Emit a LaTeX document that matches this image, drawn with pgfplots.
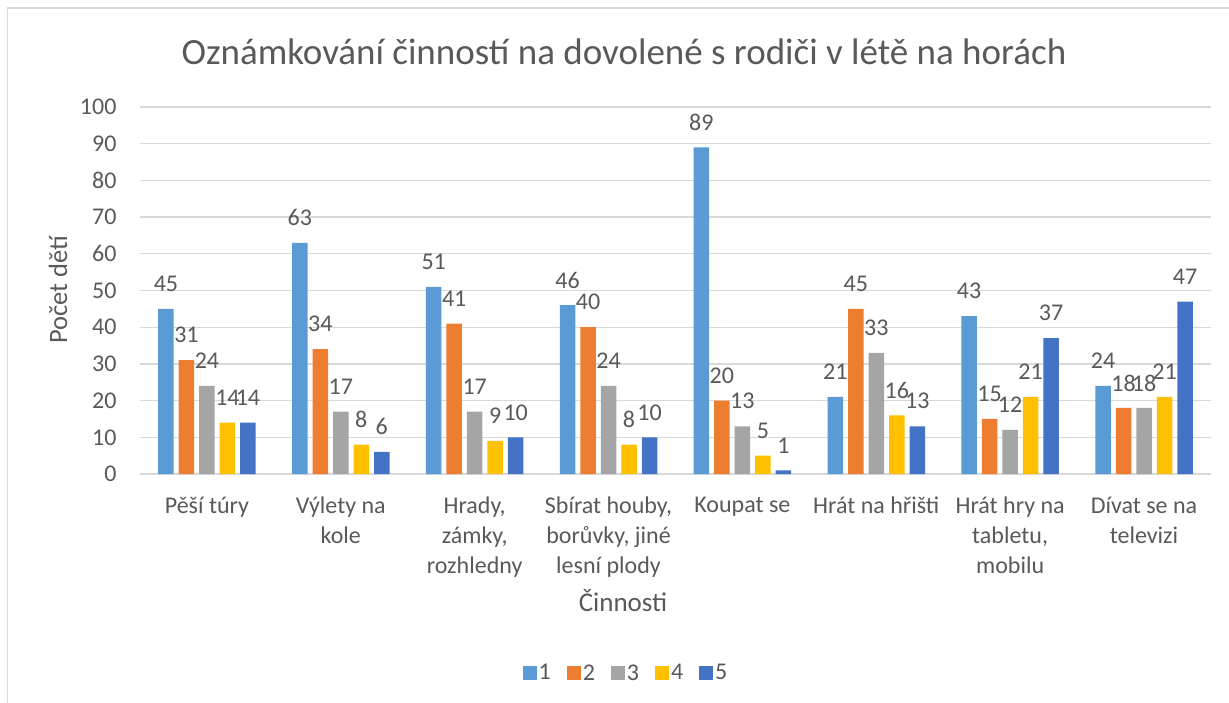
\documentclass[border=0pt]{standalone}
\usepackage{pgfplots}
\pgfplotsset{compat=1.18}
\usepackage{fontspec}
\setmainfont{Carlito}

\definecolor{c1}{HTML}{5B9BD5}
\definecolor{c2}{HTML}{ED7D31}
\definecolor{c3}{HTML}{A5A5A5}
\definecolor{c4}{HTML}{FFC000}
\definecolor{c5}{HTML}{4472C4}
\definecolor{txt}{HTML}{595959}
\definecolor{gridc}{HTML}{D9D9D9}

\begin{document}
\begin{tikzpicture}
\begin{axis}[
    at={(0,0)}, anchor=south west,
    scale only axis,
    width=1071bp, height=367bp,
    ybar=5bp, bar width=15.5bp,
    xmin=-0.5, xmax=7.5,
    ymin=0, ymax=100,
    ytick={0,10,...,100},
    xtick={0,...,7},
    xticklabels={
        Pěší túry,
        Výlety na\\kole,
        {Hrady,\\zámky,\\rozhledny},
        {Sbírat houby,\\borůvky, jiné\\lesní plody},
        Koupat se,
        Hrát na hřišti,
        {Hrát hry na\\tabletu,\\mobilu},
        Dívat se na\\televizi},
    axis line style={draw=none},
    major tick length=0pt,
    ymajorgrids, xmajorgrids=false,
    grid style={draw=gridc, line width=1.3bp},
    /pgf/number format/assume math mode=true,
    tick label style={font=\fontsize{24bp}{30bp}\selectfont, text=txt},
    yticklabel style={xshift=-20bp},
    xticklabel style={align=center, anchor=north, inner sep=0pt, yshift=-23bp},
    nodes near coords,
    every node near coord/.append style={font=\fontsize{24bp}{30bp}\selectfont, text=txt, anchor=center, yshift=25bp},
    legend columns=5,
    legend style={draw=none, at={(486bp,-199bp)}, anchor=center,
        font=\fontsize{24bp}{30bp}\selectfont, text=txt,
        /tikz/every even column/.append style={column sep=14bp}},
    legend image code/.code={\fill[#1] (0bp,-7bp) rectangle (14bp,7bp);},
    clip=false,
]
\addplot[fill=c1, draw=none] coordinates {(0,45) (1,63) (2,51) (3,46) (4,89) (5,21) (6,43) (7,24)};
\addplot[fill=c2, draw=none] coordinates {(0,31) (1,34) (2,41) (3,40) (4,20) (5,45) (6,15) (7,18)};
\addplot[fill=c3, draw=none] coordinates {(0,24) (1,17) (2,17) (3,24) (4,13) (5,33) (6,12) (7,18)};
\addplot[fill=c4, draw=none] coordinates {(0,14) (1,8) (2,9) (3,8) (4,5) (5,16) (6,21) (7,21)};
\addplot[fill=c5, draw=none] coordinates {(0,14) (1,6) (2,10) (3,10) (4,1) (5,13) (6,37) (7,47)};
\legend{1,2,3,4,5}
\end{axis}
\useasboundingbox (-140bp,-229bp) rectangle (1089bp,474bp);
\draw[gridc, line width=1.5bp] (-132.5bp,-229bp) -- (-132.5bp,466bp) -- (1089bp,466bp);
\node[text=txt, font=\fontsize{37bp}{44bp}\selectfont] at (484bp,422bp) {Oznámkování činností na dovolené s rodiči v létě na horách};
\node[text=txt, font=\fontsize{26.5bp}{32bp}\selectfont, rotate=90] at (-82bp,184bp) {Počet dětí};
\node[text=txt, font=\fontsize{27bp}{32bp}\selectfont] at (483bp,-127bp) {Činnosti};
\end{tikzpicture}
\end{document}
